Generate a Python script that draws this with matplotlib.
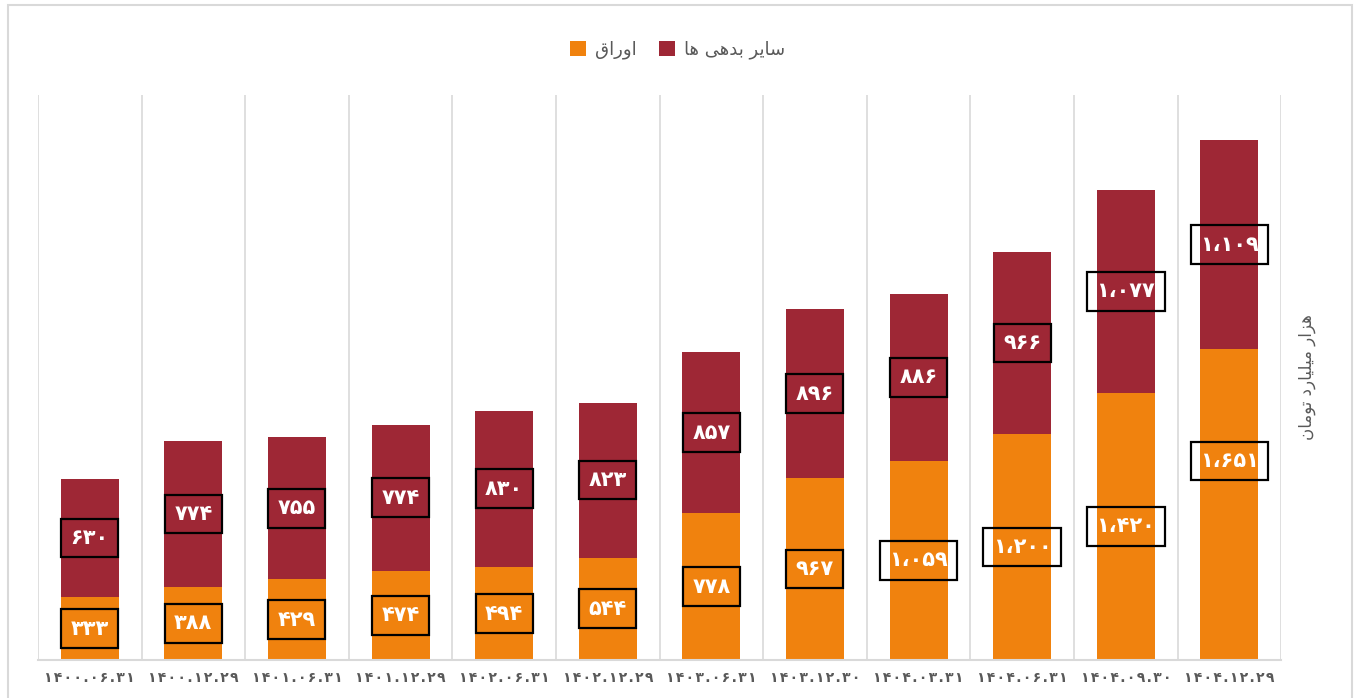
import matplotlib
matplotlib.use("Agg")
import matplotlib.pyplot as plt
from matplotlib.patches import Rectangle

# Persian text is pre-shaped (presentation forms) and in visual order,
# since matplotlib does no Arabic shaping / bidi.
FA_DIGITS = str.maketrans("0123456789", "۰۱۲۳۴۵۶۷۸۹")

dates = ["1400.06.31", "1400.12.29", "1401.06.31", "1401.12.29",
         "1402.06.31", "1402.12.29", "1403.06.31", "1403.12.30",
         "1404.03.31", "1404.06.31", "1404.09.30", "1404.12.29"]
awraq = [333, 388, 429, 474, 494, 544, 778, 967, 1059, 1200, 1420, 1651]
other_debts = [630, 774, 755, 774, 830, 823, 857, 896, 886, 966, 1077, 1109]

label_awraq = "\u0642\u0627\u0631\u0648\u0627"  # اوراق (all isolated forms, reversed)
label_other = ("\uFE8E\uFEEB" + " " + "\uFEF0\uFEEB\uFEAA\uFE91" + " "
               + "\uFEAE\uFEF3\uFE8E\uFEB3")  # سایر بدهی ها
label_unit = ("\uFEE5\uFE8E\uFEE3\uFEEE\uFE97" + " "
              + "\uFEA9\uFEAD\uFE8E\uFEF4\uFEE0\uFEF4\uFEE3" + " "
              + "\uFEAD\uFE8D\uFEB0\uFEEB")  # هزار میلیارد تومان

ORANGE = "#F0820E"
RED = "#9E2735"
GRID = "#D9D9D9"


def fa_num(v):
    s = f"{v:,}".replace(",", "\u060C")
    return s.translate(FA_DIGITS)


def fa_date(d):
    # a little letter spacing, like the original
    return "\u200A".join(d.translate(FA_DIGITS))


fig = plt.figure(figsize=(13.55, 6.98), dpi=100)
ax = fig.add_axes([0.028, 0.0544, 0.9175, 0.8095])

x = list(range(len(dates)))
w = 0.56
ax.bar(x, awraq, width=w, color=ORANGE, label=label_awraq, zorder=2)
ax.bar(x, other_debts, width=w, bottom=awraq, color=RED, label=label_other, zorder=2)

box = dict(boxstyle="square,pad=0.45", fc="none", ec="black", lw=1.6)
for i in x:
    y_or = awraq[i] / 2
    if i == len(x) - 1:
        y_or = awraq[i] * 0.64  # label sits higher in the original
    ax.text(i, y_or, fa_num(awraq[i]), ha="center", va="center", color="white",
            fontsize=15, fontweight="bold", bbox=box, zorder=3)
    ax.text(i, awraq[i] + other_debts[i] / 2, fa_num(other_debts[i]),
            ha="center", va="center", color="white", fontsize=15,
            fontweight="bold", bbox=box, zorder=3)

ax.set_xlim(-0.5, len(dates) - 0.5)
ax.set_ylim(0, 3000)
for b in [i - 0.5 for i in range(len(dates) + 1)]:
    ax.axvline(b, color=GRID, lw=1.2, zorder=1)

ax.set_xticks(x)
ax.set_xticklabels([fa_date(d) for d in dates], color="#595959",
                   fontsize=10, fontweight="bold")
ax.tick_params(axis="x", length=0, pad=8)
ax.set_yticks([])
for s in ["top", "left", "right"]:
    ax.spines[s].set_visible(False)
ax.spines["bottom"].set_color(GRID)
ax.spines["bottom"].set_linewidth(1.5)

ax.yaxis.set_label_position("right")
ax.set_ylabel(label_unit, rotation=90, fontsize=12, color="#595959", labelpad=12)

fig.legend(loc="upper center", bbox_to_anchor=(0.5, 0.965), ncol=2, frameon=False,
           fontsize=13, labelcolor="#595959", handlelength=0.9, handleheight=0.9,
           columnspacing=1.2, handletextpad=0.5)

fig.patches.append(Rectangle((8 / 1355, -0.01), 1344 / 1355, 1 - 5 / 698 + 0.01,
                             transform=fig.transFigure, fill=False,
                             ec="#D9D9D9", lw=1.5))

fig.savefig("out.png", dpi=100)
